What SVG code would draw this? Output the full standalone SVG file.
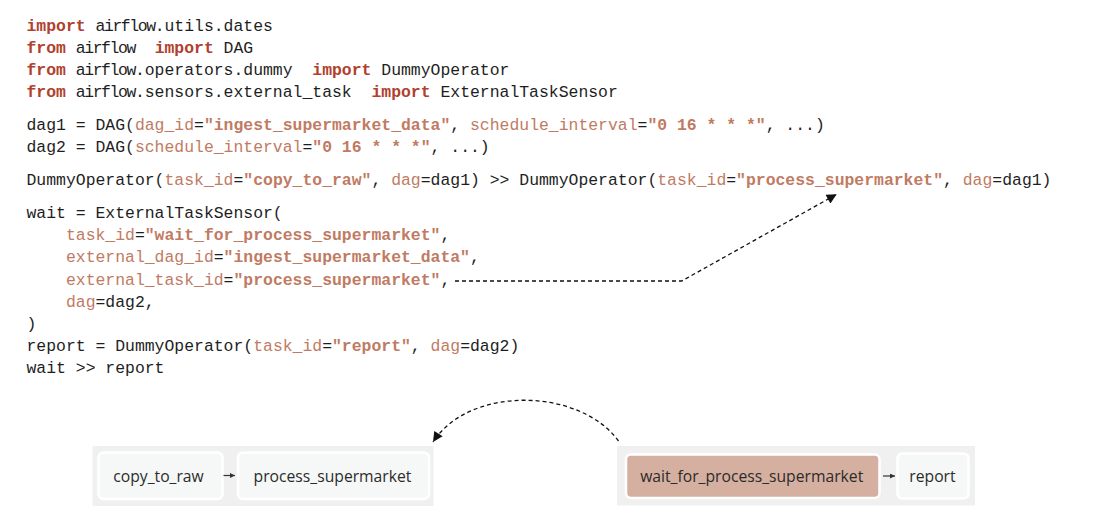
<svg xmlns="http://www.w3.org/2000/svg" width="1108" height="518" viewBox="0 0 1108 518">
<style>
.c{font-family:"Liberation Mono","Courier New",monospace;font-size:16.43px;fill:#1e1e1e;white-space:pre}
.k{fill:#b0412e;font-weight:bold}
.a{fill:#bf7b63}
.s{fill:#bf7b63;font-weight:bold}
.lig{letter-spacing:-1.41px}
.grp{fill:#f0f0f0}
.node{fill:#f6f8f7;stroke:#ffffff;stroke-width:2.5}
.hl{fill:#d5afa0;stroke:#ffffff;stroke-width:2.5}
.lbl{font-family:"Open Sans","Noto Sans","Liberation Sans",sans-serif;font-size:15.7px;fill:#2b2b2b;text-anchor:middle}
.dash{fill:none;stroke:#111;stroke-width:1.3;stroke-dasharray:4 3}
.small{fill:none;stroke:#333;stroke-width:1.2}
</style>
<defs>
<marker id="ah" viewBox="0 0 10 10" refX="10" refY="5" markerUnits="userSpaceOnUse" markerWidth="13" markerHeight="10" orient="auto">
<path d="M0,0 L10,5 L0,10 z" fill="#111" stroke="none"/>
</marker>
<marker id="sh" viewBox="0 0 10 10" refX="10" refY="5" markerUnits="userSpaceOnUse" markerWidth="5" markerHeight="5" orient="auto">
<path d="M0,0 L10,5 L0,10 z" fill="#333" stroke="none"/>
</marker>
</defs>
<rect width="1108" height="518" fill="#ffffff"/>
<g id="code" xml:space="preserve">
<text class="c" x="26.5" y="30.7"><tspan class="k">import</tspan> <tspan class="lig">airflow</tspan>.utils.dates</text>
<text class="c" x="26.5" y="52.9"><tspan class="k">from</tspan> <tspan class="lig">airflow</tspan>  <tspan class="k">import</tspan> DAG</text>
<text class="c" x="26.5" y="75.1"><tspan class="k">from</tspan> <tspan class="lig">airflow</tspan>.operators.dummy  <tspan class="k">import</tspan> DummyOperator</text>
<text class="c" x="26.5" y="97.3"><tspan class="k">from</tspan> <tspan class="lig">airflow</tspan>.sensors.external_task  <tspan class="k">import</tspan> ExternalTaskSensor</text>
<text class="c" x="26.5" y="130">dag1 = DAG(<tspan class="a">dag_id</tspan>=<tspan class="s">"ingest_supermarket_data"</tspan>, <tspan class="a">schedule_interval</tspan>=<tspan class="s">"0 16 * * *"</tspan>, ...)</text>
<text class="c" x="26.5" y="152.2">dag2 = DAG(<tspan class="a">schedule_interval</tspan>=<tspan class="s">"0 16 * * *"</tspan>, ...)</text>
<text class="c" x="26.5" y="185">DummyOperator(<tspan class="a">task_id</tspan>=<tspan class="s">"copy_to_raw"</tspan>, <tspan class="a">dag</tspan>=dag1) &gt;&gt; DummyOperator(<tspan class="a">task_id</tspan>=<tspan class="s">"process_supermarket"</tspan>, <tspan class="a">dag</tspan>=dag1)</text>
<text class="c" x="26.5" y="218">wait = ExternalTaskSensor(</text>
<text class="c" x="26.5" y="240.2">    <tspan class="a">task_id</tspan>=<tspan class="s">"wait_for_process_supermarket"</tspan>,</text>
<text class="c" x="26.5" y="262.4">    <tspan class="a">external_dag_id</tspan>=<tspan class="s">"ingest_supermarket_data"</tspan>,</text>
<text class="c" x="26.5" y="284.6">    <tspan class="a">external_task_id</tspan>=<tspan class="s">"process_supermarket"</tspan>,</text>
<text class="c" x="26.5" y="306.8">    <tspan class="a">dag</tspan>=dag2,</text>
<text class="c" x="26.5" y="329">)</text>
<text class="c" x="26.5" y="351.2">report = DummyOperator(<tspan class="a">task_id</tspan>=<tspan class="s">"report"</tspan>, <tspan class="a">dag</tspan>=dag2)</text>
<text class="c" x="26.5" y="373.4">wait &gt;&gt; report</text>
</g>
<g id="dag1-group">
<rect class="grp" x="92.5" y="446" width="341" height="60"/>
</g>
<g id="dag2-group">
<rect class="grp" x="617" y="446" width="358" height="59.5"/>
</g>
<g id="node-copy_to_raw">
<rect class="node" x="98.5" y="452.5" width="124" height="46.5" rx="5"/>
<text class="lbl" x="158.5" y="481.5">copy_to_raw</text>
</g>
<g id="node-process_supermarket">
<rect class="node" x="238" y="452.5" width="191" height="46.5" rx="5"/>
<text class="lbl" x="332.5" y="481.5">process_supermarket</text>
</g>
<g id="node-wait_for_process_supermarket">
<rect class="hl" x="626" y="454.5" width="253.5" height="43.5" rx="5"/>
<text class="lbl" x="751.7" y="481.5">wait_for_process_supermarket</text>
</g>
<g id="node-report">
<rect class="node" x="897.5" y="453.5" width="71" height="45" rx="5"/>
<text class="lbl" x="932.5" y="481.5">report</text>
</g>
<g id="connectors">
<path class="small" d="M223.5,475.5 H235" marker-end="url(#sh)"/>
<path class="small" d="M883,476 H895" marker-end="url(#sh)"/>
<path class="dash" d="M455,281 H681.7 L836.7,194.3" marker-end="url(#ah)"/>
<path class="dash" d="M618.5,441 C580,388 470,385 433,442" marker-end="url(#ah)"/>
</g>
</svg>
